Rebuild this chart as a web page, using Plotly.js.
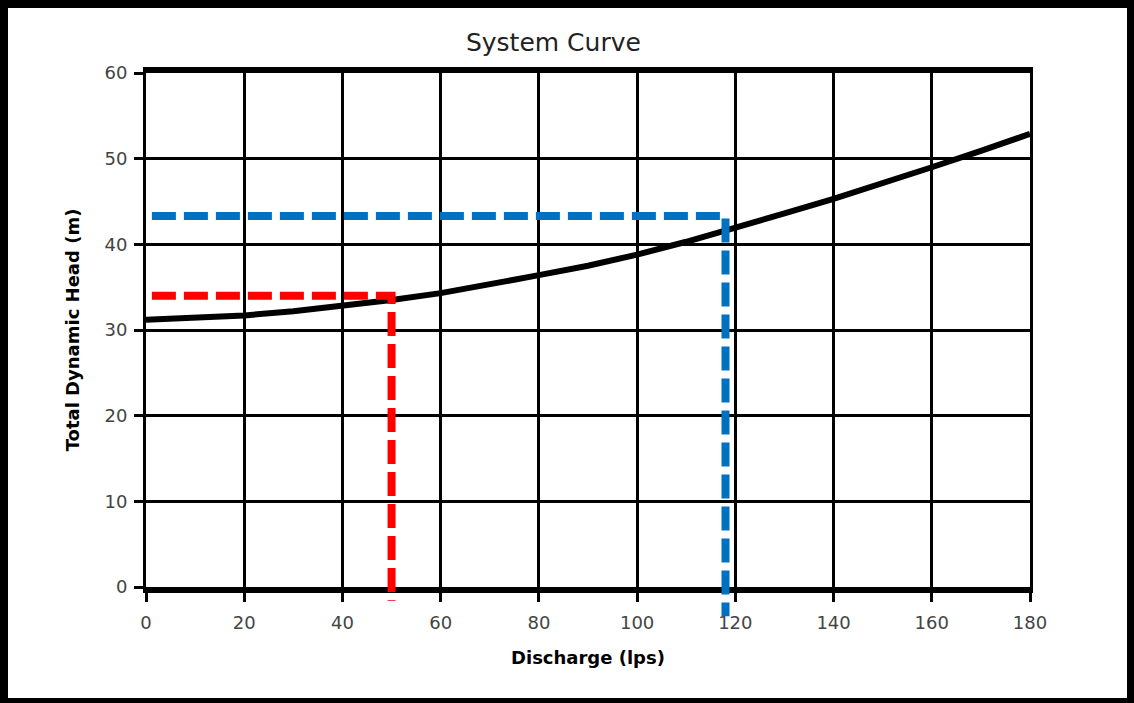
<!DOCTYPE html>
<html>
<head>
<meta charset="utf-8">
<script src="https://cdn.plot.ly/plotly-3.0.1.min.js"></script>
<style>
  html, body { margin: 0; padding: 0; background: #fff; }
  #wrap { position: relative; width: 1134px; height: 703px; }
  #chart { position: absolute; left: 0; top: 0; width: 1134px; height: 703px; }
  #frame { position: absolute; left: 0; top: 0; width: 1134px; height: 703px; box-sizing: border-box;
           border-left: 8px solid #000; border-top: 8px solid #000; border-right: 7px solid #000; border-bottom: 5px solid #000;
           pointer-events: none; }
</style>
</head>
<body>
<div id="wrap">
  <div id="chart"></div>
  <div id="frame"></div>
</div>
<script>
// System curve (Discharge in lps vs Total Dynamic Head in m)
const discharge = [0, 10, 20, 30, 40, 50, 60, 70, 80, 90, 100, 110, 120, 130, 140, 150, 160, 170, 180];
const headTDH   = [31.2, 31.4, 31.7, 32.2, 32.8, 33.5, 34.3, 35.3, 36.4, 37.5, 38.8, 40.3, 41.9, 43.6, 45.3, 47.1, 49.0, 50.9, 52.9];

// Operating point guides (red: 50 lps, blue: 118 lps)
const redX  = [1.2, 50, 50];
const redY  = [34.0, 34.0, -1.6];
const blueX = [1.2, 118, 118];
const blueY = [43.3, 43.3, -3.4];

const xTicks = [0, 20, 40, 60, 80, 100, 120, 140, 160, 180];
const yTicks = [0, 10, 20, 30, 40, 50, 60];

// layout geometry
const W = 1134, H = 703;
const mL = 146, mR = 104, mT = 73, mB = 76;
const plotH = H - mT - mB;          // full plot height (incl. overhang below y=0)
const overhang = 40;                // px below y=0 where guides may extend
const dLow = overhang / plotH;
const yMin = 0, yMax = 60;
const y2Low = -(yMax - yMin) * overhang / (plotH - overhang);

const tickFont = { family: 'DejaVu Sans, Arial, sans-serif', size: 18, color: '#444' };
const axTitleFont = { family: 'DejaVu Sans, Arial, sans-serif', size: 18, color: '#000', weight: 'bold' };

const traces = [
  { x: discharge, y: headTDH, type: 'scatter', mode: 'lines', xaxis: 'x', yaxis: 'y',
    line: { color: '#000', width: 6 }, hoverinfo: 'skip', showlegend: false },
  { x: redX, y: redY, type: 'scatter', mode: 'lines', xaxis: 'x2', yaxis: 'y2',
    line: { color: '#ff0000', width: 8, dash: '24px,8px' }, hoverinfo: 'skip', showlegend: false },
  { x: blueX, y: blueY, type: 'scatter', mode: 'lines', xaxis: 'x2', yaxis: 'y2',
    line: { color: '#0070c0', width: 8, dash: '24px,8px' }, hoverinfo: 'skip', showlegend: false }
];

const layout = {
  width: W, height: H,
  margin: { l: mL, r: mR, t: mT, b: mB, pad: 0 },
  paper_bgcolor: '#fff', plot_bgcolor: 'rgba(0,0,0,0)',
  showlegend: false,
  title: { text: 'System Curve', xref: 'container', x: 0.488, xanchor: 'center',
           yref: 'container', y: 1 - 42 / H, yanchor: 'middle',
           font: { family: 'DejaVu Sans, Arial, sans-serif', size: 25, color: '#222' } },
  xaxis: {
    domain: [0, 1], anchor: 'y', range: [0, 180], tickvals: xTicks, ticktext: xTicks.map(String),
    showgrid: true, gridcolor: '#000', gridwidth: 3, zeroline: false,
    showline: true, linecolor: '#000', linewidth: 6, mirror: true,
    ticks: 'outside', ticklen: 9, tickwidth: 3, tickcolor: '#000',
    tickfont: tickFont, ticklabelstandoff: 5,
    title: { text: 'Discharge (lps)', font: axTitleFont, standoff: 22 }
  },
  yaxis: {
    domain: [dLow, 1], anchor: 'x', range: [yMin, yMax], tickvals: yTicks, ticktext: yTicks.map(String),
    showgrid: true, gridcolor: '#000', gridwidth: 3, zeroline: false,
    showline: true, linecolor: '#000', linewidth: 3, mirror: true,
    ticks: 'outside', ticklen: 9, tickwidth: 3, tickcolor: '#000',
    tickfont: tickFont, ticklabelstandoff: 3,
    title: { text: 'Total Dynamic Head (m)', font: axTitleFont, standoff: 21 }
  },
  xaxis2: { domain: [0, 1], anchor: 'y2', range: [0, 180], visible: false, showgrid: false, zeroline: false },
  yaxis2: { domain: [0, 1], anchor: 'x2', range: [y2Low, yMax], visible: false, showgrid: false, zeroline: false }
};

Plotly.newPlot('chart', traces, layout, { staticPlot: true, displayModeBar: false });
</script>
</body>
</html>
